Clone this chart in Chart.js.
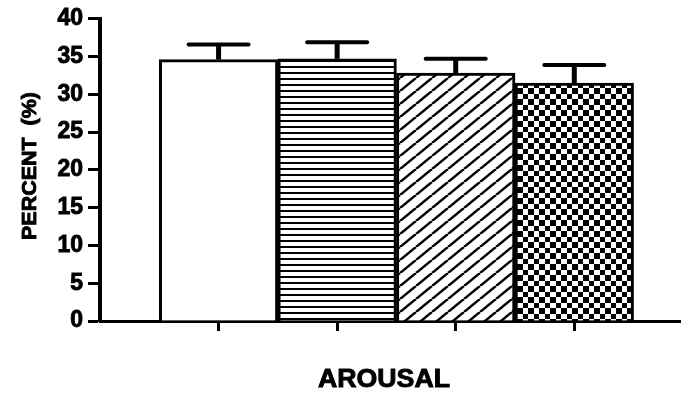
<!DOCTYPE html>
<html>
<head>
<meta charset="utf-8">
<script src="https://cdn.jsdelivr.net/npm/chart.js@4/dist/chart.umd.min.js"></script>
<style>
  html, body { margin: 0; padding: 0; background: #fff; overflow: hidden; }
  #wrap { width: 681px; height: 393px; position: relative; }
</style>
</head>
<body>
<div id="wrap"><canvas id="c" width="681" height="393"></canvas></div>
<script>
// Group positions along the x axis, bar means and their error (upper bar only)
const groups = [1, 2, 3, 4];
const means = [34.6, 34.7, 32.8, 31.5];
const sems = [2.0, 2.2, 1.9, 2.4];
const yTicks = [0, 5, 10, 15, 20, 25, 30, 35, 40];
const yTitle = 'PERCENT  (%)';
const xTitle = 'AROUSAL';

const canvas = document.getElementById('c');
const ctx = canvas.getContext('2d');

// Build a repeating black-on-white fill pattern
function makePattern(w, h, draw) {
  const c = document.createElement('canvas');
  c.width = w; c.height = h;
  const g = c.getContext('2d');
  g.fillStyle = '#fff';
  g.fillRect(0, 0, w, h);
  g.fillStyle = '#000';
  g.strokeStyle = '#000';
  draw(g, w, h);
  return ctx.createPattern(c, 'repeat');
}

const stripes = makePattern(6, 6, g => g.fillRect(0, 0, 6, 2));
const hatch = makePattern(16, 13, (g, w, h) => {
  g.lineWidth = 2.5;
  for (const dx of [-w, 0, w]) {
    g.beginPath();
    g.moveTo(dx, h);
    g.lineTo(dx + w, 0);
    g.stroke();
  }
});
const checks = makePattern(11, 11, g => {
  g.fillRect(0, 0, 6, 6);
  g.fillRect(6, 6, 5, 5);
});
const fills = ['#ffffff', stripes, hatch, checks];

// Upward error bars with a flat cap
const errorBars = {
  id: 'errorBars',
  afterDatasetsDraw(chart) {
    const { ctx, scales: { x, y } } = chart;
    ctx.save();
    ctx.strokeStyle = '#000';
    groups.forEach((g, i) => {
      const px = x.getPixelForValue(g);
      const base = y.getPixelForValue(means[i]);
      const top = y.getPixelForValue(means[i] + sems[i]);
      ctx.lineWidth = 5;
      ctx.lineCap = 'butt';
      ctx.beginPath();
      ctx.moveTo(px, base);
      ctx.lineTo(px, top);
      ctx.stroke();
      ctx.lineWidth = 4;
      ctx.lineCap = 'round';
      ctx.beginPath();
      ctx.moveTo(px - 30, top);
      ctx.lineTo(px + 30, top);
      ctx.stroke();
    });
    ctx.restore();
  }
};

// Axis titles in heavy bold sans, fitted to a given run length
function fittedText(c, text, cx, cy, rot, size, len) {
  c.save();
  c.font = 'bold ' + size + 'px "Liberation Sans", Arial, sans-serif';
  const w = c.measureText(text).width;
  c.translate(cx, cy);
  c.rotate(rot);
  c.scale(len / w, 1);
  c.textAlign = 'center';
  c.textBaseline = 'middle';
  c.fillStyle = '#000';
  c.strokeStyle = '#000';
  c.lineWidth = 0.9;
  c.fillText(text, 0, 0);
  c.strokeText(text, 0, 0);
  c.restore();
}
const axisTitles = {
  id: 'axisTitles',
  afterDraw(chart) {
    const c = chart.ctx;
    fittedText(c, yTitle, 30, 166, -Math.PI / 2, 21, 148);
    fittedText(c, xTitle, 384, 380, 0, 25, 132);
  }
};

new Chart(ctx, {
  type: 'bar',
  data: {
    datasets: [{
      data: groups.map((g, i) => ({ x: g, y: means[i] })),
      backgroundColor: fills,
      borderColor: '#000',
      borderWidth: 3,
      barPercentage: 1,
      categoryPercentage: 1
    }]
  },
  options: {
    responsive: false,
    animation: false,
    devicePixelRatio: 1,
    layout: { padding: { top: 18, right: 0, bottom: 0, left: 0 } },
    plugins: { legend: { display: false }, tooltip: { enabled: false } },
    scales: {
      x: {
        type: 'linear',
        min: 0,
        max: 4.9,
        offset: false,
        afterBuildTicks: s => { s.ticks = groups.map(v => ({ value: v })); },
        afterFit: s => { s.height = 72; },
        ticks: { display: false },
        grid: { display: true, offset: false, drawOnChartArea: false, drawTicks: true, tickLength: 10, tickWidth: 3, tickColor: '#000' },
        border: { display: true, color: '#000', width: 3 }
      },
      y: {
        min: 0,
        max: 40,
        afterBuildTicks: s => { s.ticks = yTicks.map(v => ({ value: v })); },
        afterFit: s => { s.width = 100; },
        ticks: {
          color: '#000', padding: 5,
          textStrokeColor: '#000', textStrokeWidth: 0.9,
          font: { family: '"Liberation Sans", Arial, sans-serif', weight: 'bold', size: 23 }
        },
        grid: { display: true, drawOnChartArea: false, drawTicks: true, tickLength: 12, tickWidth: 3, tickColor: '#000' },
        border: { display: true, color: '#000', width: 4 }
      }
    }
  },
  plugins: [errorBars, axisTitles]
});
</script>
</body>
</html>
